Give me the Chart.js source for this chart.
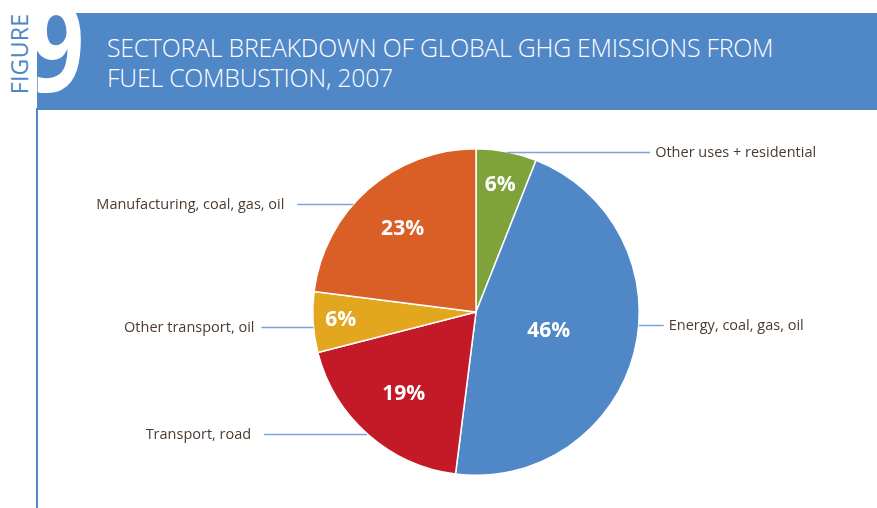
<!DOCTYPE html>
<html>
<head>
<meta charset="utf-8">
<script src="https://cdn.jsdelivr.net/npm/chart.js@4.4.0/dist/chart.umd.min.js"></script>
<style>
  html,body{margin:0;padding:0;background:#fff;width:877px;height:508px;overflow:hidden;position:relative}
  #band{position:absolute;left:37px;top:13px;width:840px;height:97px;background:#4F87C7}
  #rule{position:absolute;left:36px;top:108px;width:2px;height:400px;background:#4F87C7}
  #title{position:absolute;left:107px;top:32px;color:#fff;font-family:'Open Sans',sans-serif;font-weight:300;font-size:24.8px;line-height:30px;letter-spacing:-0.2px}
  #fig{position:absolute;left:19px;top:54px;transform:translate(-50%,-50%) rotate(-90deg);color:#4F87C7;font-family:'Open Sans',sans-serif;font-weight:400;font-size:23px;letter-spacing:0.3px;white-space:nowrap}
  #ninebox{position:absolute;left:30px;top:13px;width:60px;height:84px;overflow:hidden}
  #nine{position:absolute;left:0px;top:-34px;color:#fff;font-family:'Open Sans',sans-serif;font-weight:700;font-size:128px;line-height:128px;transform:scaleX(0.74);transform-origin:left top}
  #wrap{position:absolute;left:0;top:0;width:877px;height:508px}
</style>
</head>
<body>
<div id="band"></div>
<div id="rule"></div>
<div id="fig">FIGURE</div>
<div id="ninebox"><div id="nine">9</div></div>
<div id="title">SECTORAL BREAKDOWN OF GLOBAL GHG EMISSIONS FROM<br>FUEL COMBUSTION, 2007</div>
<div id="wrap"><canvas id="pie"></canvas></div>
<script>
// ── Data ──────────────────────────────────────────────────────────────────────
const sectors=['Other uses + residential','Energy, coal, gas, oil','Transport, road','Other transport, oil','Manufacturing, coal, gas, oil'];
const shares=[6,46,19,6,23];
const colors=['#7FA33A','#4F87C7','#C41A27','#E2A71E','#D95F27'];

// label layout: radial position of % text, angle where leader meets the rim, leader length, text gap
const pctRadius=[0.79,0.46,0.67,0.83,0.68];
const leaderAngle=[11,94.6,221.8,264.7,311.3];
const leaderLen=[143,25,103,52,56];
const textGap=[5,5,13,7,13];

const calloutPlug={id:'callouts',afterDatasetsDraw(chart){
  const cx=chart.ctx, meta=chart.getDatasetMeta(0);
  const arc0=meta.data[0], x0=arc0.x, y0=arc0.y, R=arc0.outerRadius;
  cx.save();
  // percentage labels inside slices
  cx.fillStyle='#fff'; cx.font='bold 21px "Open Sans", sans-serif';
  cx.textAlign='center'; cx.textBaseline='middle';
  meta.data.forEach((a,i)=>{
    const mid=(a.startAngle+a.endAngle)/2, r=R*pctRadius[i];
    cx.fillText(shares[i]+'%',x0+Math.cos(mid)*r,y0+Math.sin(mid)*r);
  });
  // leader lines + sector names
  cx.strokeStyle='#7DA6D8'; cx.lineWidth=1.5;
  cx.font='14.5px "Open Sans", sans-serif'; cx.fillStyle='#4A3B30';
  sectors.forEach((s,i)=>{
    const t=leaderAngle[i]*Math.PI/180;
    const px=x0+Math.sin(t)*R, py=Math.round(y0-Math.cos(t)*R)+0.5;
    const right=Math.sin(t)>0, ex=right?px+leaderLen[i]:px-leaderLen[i];
    cx.beginPath(); cx.moveTo(px,py); cx.lineTo(ex,py); cx.stroke();
    cx.textAlign=right?'left':'right';
    cx.fillText(s,right?ex+textGap[i]:ex-textGap[i],py);
  });
  cx.restore();
}};

new Chart(document.getElementById('pie').getContext('2d'),{
  type:'pie',plugins:[calloutPlug],
  data:{labels:sectors,datasets:[{data:shares,backgroundColor:colors,borderColor:'#fff',borderWidth:1.5}]},
  options:{responsive:true,maintainAspectRatio:false,animation:false,
    layout:{padding:{top:148,bottom:32,left:312,right:237}},
    plugins:{legend:{display:false},tooltip:{enabled:false}}}
});
</script>
</body>
</html>
